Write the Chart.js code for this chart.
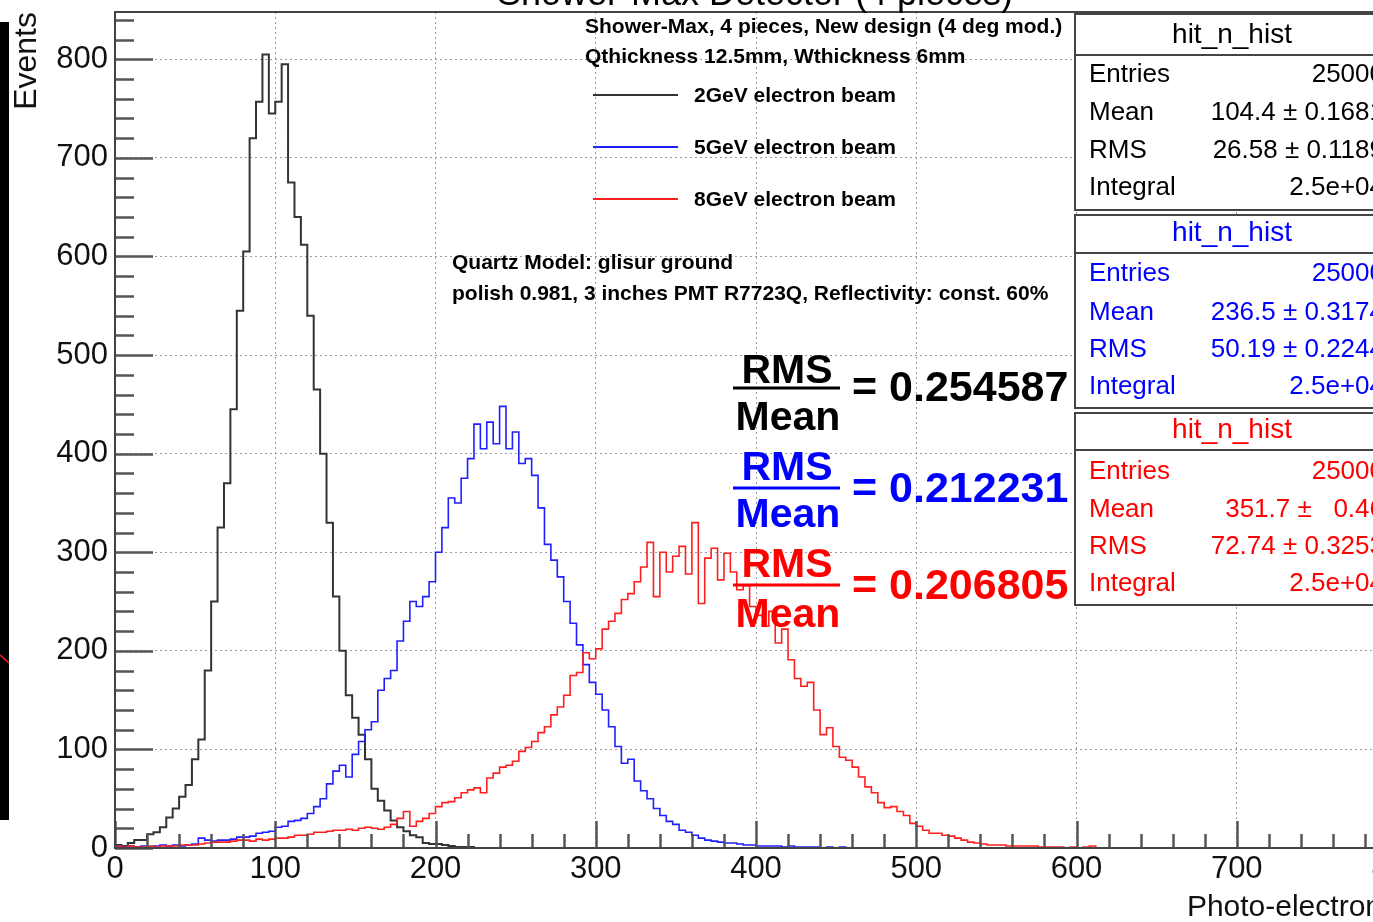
<!DOCTYPE html>
<html><head><meta charset="utf-8">
<script src="https://cdn.jsdelivr.net/npm/chart.js@4.4.1/dist/chart.umd.min.js"></script>
<style>
html,body{margin:0;padding:0;background:#fff;overflow:hidden;width:1373px;height:922px;}
#wrap{position:relative;width:1440px;height:922px;}
canvas{display:block;}
</style></head><body>
<div id="wrap"><canvas id="c" width="1440" height="922"></canvas></div>
<script>
// ---------------- data ----------------
const BIN_WIDTH = 4; // photo-electrons per bin, 200 bins from 0 to 800
const xTickValues = [0,100,200,300,400,500,600,700,800];
const yTickValues = [0,100,200,300,400,500,600,700,800];
const seriesNames = ['2GeV electron beam','5GeV electron beam','8GeV electron beam'];
const counts2GeV = [
 2,3,2,5,8,8,14,16,21,31,40,52,64,90,110,180,250,325,370,445,
 545,605,720,757,805,745,757,795,675,640,612,540,465,400,330,255,200,155,132,115,
 90,60,48,38,28,21,17,13,11,5,4,4,3,2,1,1,1,0,0,0,
 0,0,0,0,0,0,0,0,0,0,0,0,0,0,0,0,0,0,0,0,
 0,0,0,0,0,0,0,0,0,0,0,0,0,0,0,0,0,0,0,0,
 0,0,0,0,0,0,0,0,0,0,0,0,0,0,0,0,0,0,0,0,
 0,0,0,0,0,0,0,0,0,0,0,0,0,0,0,0,0,0,0,0,
 0,0,0,0,0,0,0,0,0,0,0,0,0,0,0,0,0,0,0,0,
 0,0,0,0,0,0,0,0,0,0,0,0,0,0,0,0,0,0,0,0,
 0,0,0,0,0,0,0,0,0,0,0,0,0,0,0,0,0,0,0,0
];
const counts5GeV = [
 1,2,1,2,1,2,1,2,3,2,3,2,3,4,10,8,7,8,8,9,
 11,11,12,15,16,17,21,22,27,28,30,35,42,50,65,78,84,72,95,108,
 120,128,160,172,180,210,230,250,245,255,270,300,325,355,350,375,395,430,405,432,
 410,448,405,422,390,395,378,345,308,292,275,250,228,206,186,168,156,140,123,103,
 86,90,68,58,50,40,33,27,24,18,16,13,10,8,7,6,5,5,4,3,
 3,2,2,2,2,1,2,1,1,1,1,0,1,0,1,0,0,0,0,0,
 0,0,0,0,0,0,0,0,0,0,0,0,0,0,0,0,0,0,0,0,
 0,0,0,0,0,0,0,0,0,0,0,0,0,0,0,0,0,0,0,0,
 0,0,0,0,0,0,0,0,0,0,0,0,0,0,0,0,0,0,0,0,
 0,0,0,0,0,0,0,0,0,0,0,0,0,0,0,0,0,0,0,0
];
const counts8GeV = [
 1,2,1,2,1,1,2,1,2,2,2,3,3,3,4,5,6,6,6,7,
 8,8,7,9,8,9,10,10,11,13,13,14,16,16,17,18,18,19,18,20,
 21,20,19,21,24,30,37,22,27,30,35,42,46,47,51,56,59,61,56,71,
 76,82,84,88,98,102,108,117,123,135,143,155,175,178,198,192,202,222,230,238,
 252,258,270,285,310,255,300,280,296,306,278,330,248,294,304,272,299,280,262,266,
 245,236,225,240,208,222,191,172,164,168,140,115,122,103,92,89,82,72,62,56,
 46,41,42,37,33,25,22,18,15,15,13,12,10,8,6,5,4,3,3,3,
 2,2,2,2,2,1,1,1,1,0,1,0,1,2,0,0,0,0,0,0,
 0,0,0,0,0,0,0,0,0,0,0,0,0,0,0,0,0,0,0,0,
 0,0,0,0,0,0,0,0,0,0,0,0,0,0,0,0,0,0,0,0
];
const statLabels = ['Entries','Mean','RMS','Integral'];
const stats2GeV = ['25000','104.4 \u00b1 0.1681','26.58 \u00b1 0.1189','2.5e+04'];
const stats5GeV = ['25000','236.5 \u00b1 0.3174','50.19 \u00b1 0.2244','2.5e+04'];
const stats8GeV = ['25000','351.7 \u00b1   0.46','72.74 \u00b1 0.3253','2.5e+04'];
const ratioValues = ['0.254587','0.212231','0.206805'];

// ---------------- styling ----------------
const COLORS = ['#333333','#1f1fff','#ff1f1f'];
const TEXT_COLORS = ['#000000','#0000ff','#ff0000'];
const FONT = '"Liberation Sans", Arial, Helvetica, sans-serif';

function toSteps(counts){
  const pts = counts.map((c,i)=>({x:i*BIN_WIDTH, y:c}));
  pts.push({x:counts.length*BIN_WIDTH, y:counts[counts.length-1]});
  return pts;
}

const rootFrame = {
  id:'rootFrame',
  afterDatasetsDraw(chart){
    const {ctx, chartArea:a, scales:{x,y}} = chart;
    ctx.save();
    ctx.strokeStyle = '#555';
    ctx.lineWidth = 2.5;
    ctx.beginPath();
    for (let v=0; v<=y.max; v+=20){
      const py = Math.round(y.getPixelForValue(v))+0.5;
      const len = (v%100===0)?38:19;
      ctx.moveTo(a.left, py); ctx.lineTo(a.left+len, py);
    }
    for (let v=0; v<=x.max; v+=20){
      const px = Math.round(x.getPixelForValue(v))+0.5;
      const len = (v%100===0)?27:14;
      ctx.moveTo(px, a.bottom); ctx.lineTo(px, a.bottom-len);
    }
    ctx.stroke();
    ctx.strokeStyle = '#444';
    ctx.lineWidth = 2;
    ctx.strokeRect(a.left, a.top, a.right-a.left, a.bottom-a.top);
    ctx.restore();
  }
};

function drawStatBox(ctx, top, bottom, titleY, sepY, rowYs, values, color){
  const L = 1075, R = 1395;
  ctx.fillStyle = '#fff';
  ctx.fillRect(L, top, R-L, bottom-top);
  ctx.strokeStyle = '#444';
  ctx.lineWidth = 2;
  ctx.strokeRect(L, top, R-L, bottom-top);
  ctx.beginPath(); ctx.moveTo(L, sepY); ctx.lineTo(R, sepY); ctx.stroke();
  ctx.fillStyle = color;
  ctx.textBaseline = 'middle';
  ctx.font = '28px ' + FONT;
  ctx.textAlign = 'center';
  ctx.fillText('hit_n_hist', 1232, titleY);
  ctx.font = '26px ' + FONT;
  statLabels.forEach((lab,i)=>{
    ctx.textAlign = 'left';
    ctx.fillText(lab, 1089, rowYs[i]);
    ctx.textAlign = 'right';
    ctx.fillText(values[i], 1384, rowYs[i]);
  });
}

function drawRatio(ctx, color, rmsBase, lineY, meanBase, valBase, value){
  ctx.fillStyle = color; ctx.strokeStyle = color;
  ctx.textBaseline = 'alphabetic';
  ctx.font = 'bold 41px ' + FONT;
  ctx.textAlign = 'center';
  ctx.fillText('RMS', 787, rmsBase);
  ctx.fillText('Mean', 788, meanBase);
  ctx.lineWidth = 3;
  ctx.beginPath(); ctx.moveTo(733, lineY); ctx.lineTo(840, lineY); ctx.stroke();
  ctx.font = 'bold 43px ' + FONT;
  ctx.textAlign = 'left';
  ctx.fillText('= ' + value, 852, valBase);
}

const annotations = {
  id:'annotations',
  afterDraw(chart){
    const ctx = chart.ctx;
    ctx.save();
    // cropped black bar at the left edge of the screenshot
    ctx.fillStyle = '#000';
    ctx.fillRect(0, 22, 9, 798);
    ctx.strokeStyle = '#ff2020'; ctx.lineWidth = 1.5;
    ctx.beginPath(); ctx.moveTo(0, 655); ctx.lineTo(9, 663); ctx.stroke();
    // title (cut off at top)
    ctx.fillStyle = '#000';
    ctx.font = '36px ' + FONT;
    ctx.textAlign = 'center'; ctx.textBaseline = 'alphabetic';
    ctx.fillText('Shower-Max Detector (4 pieces)', 755, 5);
    // header text
    ctx.font = 'bold 21px ' + FONT;
    ctx.textAlign = 'left'; ctx.textBaseline = 'middle';
    ctx.fillText('Shower-Max, 4 pieces, New design (4 deg mod.)', 585, 27);
    ctx.fillText('Qthickness 12.5mm, Wthickness 6mm', 585, 57);
    // legend
    const legY = [95,147,199];
    seriesNames.forEach((n,i)=>{
      ctx.strokeStyle = COLORS[i]; ctx.lineWidth = 2;
      ctx.beginPath(); ctx.moveTo(593, legY[i]); ctx.lineTo(678, legY[i]); ctx.stroke();
      ctx.fillStyle = '#000';
      ctx.fillText(n, 694, legY[i]+1);
    });
    ctx.fillText('Quartz Model: glisur ground', 452, 263);
    ctx.fillText('polish 0.981, 3 inches PMT R7723Q, Reflectivity: const. 60%', 452, 294);
    // RMS / Mean ratios
    drawRatio(ctx, TEXT_COLORS[0], 383, 388, 430, 401, ratioValues[0]);
    drawRatio(ctx, TEXT_COLORS[1], 480, 488, 527, 502, ratioValues[1]);
    drawRatio(ctx, TEXT_COLORS[2], 577, 585, 627, 599, ratioValues[2]);
    // stat boxes
    drawStatBox(ctx, 14, 210, 35, 55, [75,113,151,188], stats2GeV, TEXT_COLORS[0]);
    drawStatBox(ctx, 215, 408, 233, 253, [274,313,350,387], stats5GeV, TEXT_COLORS[1]);
    drawStatBox(ctx, 413, 605, 430, 450, [472,510,547,584], stats8GeV, TEXT_COLORS[2]);
    ctx.restore();
  }
};

const tickFont = {family: FONT, size: 31};
new Chart(document.getElementById('c'), {
  type:'line',
  data:{
    datasets:[
      {label:seriesNames[0], data:toSteps(counts2GeV), borderColor:COLORS[0], borderWidth:2, stepped:'after', pointRadius:0, fill:false, order:3},
      {label:seriesNames[1], data:toSteps(counts5GeV), borderColor:COLORS[1], borderWidth:1.6, stepped:'after', pointRadius:0, fill:false, order:2},
      {label:seriesNames[2], data:toSteps(counts8GeV), borderColor:COLORS[2], borderWidth:1.6, stepped:'after', pointRadius:0, fill:false, order:1}
    ]
  },
  options:{
    responsive:false,
    animation:false,
    events:[],
    layout:{padding:{top:12, right:43, left:0, bottom:0}},
    plugins:{legend:{display:false}, tooltip:{enabled:false}, title:{display:false}},
    scales:{
      x:{
        type:'linear', min:0, max:800,
        afterBuildTicks:s=>{ s.ticks = xTickValues.map(v=>({value:v})); },
        afterFit:s=>{ s.height = 74; s.paddingLeft = 0; s.paddingRight = 0; },
        ticks:{font:tickFont, color:'#111', padding:3, autoSkip:false, maxRotation:0, callback:v=>String(v)},
        grid:{color:'#9a9a9a', lineWidth:1, drawTicks:false},
        border:{display:false, dash:[2,3]},
        title:{display:true, text:'Photo-electrons', align:'end', color:'#111', font:{family:FONT, size:30}, padding:{top:0, bottom:-4}}
      },
      y:{
        type:'linear', min:0, max:848,
        afterBuildTicks:s=>{ s.ticks = yTickValues.map(v=>({value:v})); },
        afterFit:s=>{ s.width = 115; s.paddingTop = 0; s.paddingBottom = 0; },
        ticks:{font:tickFont, color:'#111', padding:7, autoSkip:false, callback:v=>String(v)},
        grid:{color:'#9a9a9a', lineWidth:1, drawTicks:false},
        border:{display:false, dash:[2,3]},
        title:{display:true, text:'Events', align:'end', color:'#111', font:{family:FONT, size:32}, padding:{top:8, bottom:0}}
      }
    }
  },
  plugins:[rootFrame, annotations]
});
</script>
</body></html>
